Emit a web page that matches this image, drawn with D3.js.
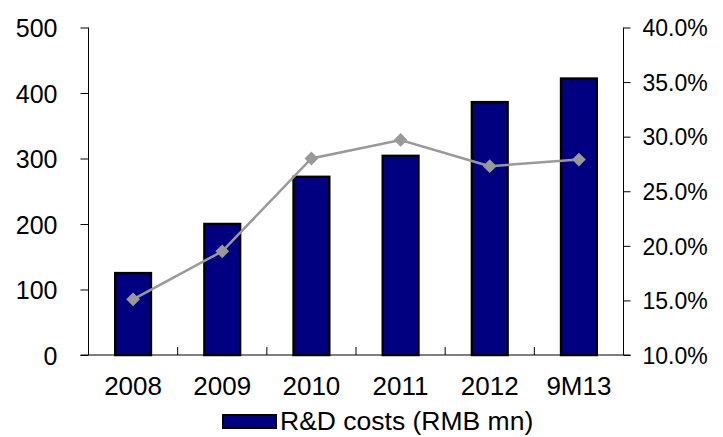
<!DOCTYPE html>
<html>
<head>
<meta charset="utf-8">
<script src="https://cdn.jsdelivr.net/npm/d3@7"></script>
<style>
  body { margin: 0; background: #fff; }
  svg text { font-family: "Liberation Sans", Arial, sans-serif; fill: #000; }
</style>
</head>
<body>
<svg id="chart"></svg>
<script>
const years = ["2008", "2009", "2010", "2011", "2012", "9M13"];
const rdCosts = [125, 200, 272, 304, 386, 422];
const rdRatio = [15.1, 19.5, 28.0, 29.7, 27.3, 27.9];
const leftTicks = [0, 100, 200, 300, 400, 500];
const rightTicks = [10, 15, 20, 25, 30, 35, 40];
const legendLabel = "R&D costs (RMB mn)";

const width = 723, height = 437;
const x0 = 88.5, x1 = 623.5, yTop = 27.5, yBot = 355;

const svg = d3.select("#chart").attr("width", width).attr("height", height);

const x = d3.scaleBand().domain(years).range([x0, x1]).paddingInner(0.6).paddingOuter(0.3);
const yL = d3.scaleLinear().domain([0, 500]).range([yBot, yTop]);
const yR = d3.scaleLinear().domain([10, 40]).range([yBot, yTop]);

// bars
svg.selectAll("rect.bar")
  .data(rdCosts)
  .enter().append("rect")
  .attr("class", "bar")
  .attr("x", (d, i) => x(years[i]))
  .attr("y", d => yL(d))
  .attr("width", x.bandwidth())
  .attr("height", d => yBot - yL(d))
  .attr("fill", "#000080")
  .attr("stroke", "#000")
  .attr("stroke-width", 2.5);

// left axis
const axL = svg.append("g").attr("transform", `translate(${x0},0)`)
  .call(d3.axisLeft(yL).tickValues(leftTicks).tickSize(8).tickPadding(23).tickFormat(d3.format("d")));
axL.select(".domain").attr("d", `M0,${yTop}V${yBot}`);
axL.selectAll("text").style("font-size", "25px").attr("dy", "0.36em");

// right axis
const axR = svg.append("g").attr("transform", `translate(${x1},0)`)
  .call(d3.axisRight(yR).tickValues(rightTicks).tickSize(7).tickPadding(12).tickFormat(d => d.toFixed(1) + "%"));
axR.select(".domain").attr("d", `M0,${yTop}V${yBot}`);
axR.selectAll("text").style("font-size", "23px").attr("dy", "0.36em");

// x baseline and category ticks
svg.append("line").attr("x1", x0 - 8).attr("x2", x1 + 7)
  .attr("y1", yBot).attr("y2", yBot).attr("stroke", "#000");
const step = x.step();
svg.selectAll("line.cat")
  .data(d3.range(1, years.length))
  .enter().append("line")
  .attr("class", "cat")
  .attr("x1", i => x0 + i * step).attr("x2", i => x0 + i * step)
  .attr("y1", yBot).attr("y2", yBot - 8)
  .attr("stroke", "#000");
svg.selectAll("text.cat")
  .data(years)
  .enter().append("text")
  .attr("class", "cat")
  .attr("x", d => x(d) + x.bandwidth() / 2)
  .attr("y", 395)
  .attr("text-anchor", "middle")
  .style("font-size", "26px")
  .text(d => d);

// ratio line
const line = d3.line()
  .x((d, i) => x(years[i]) + x.bandwidth() / 2)
  .y(d => yR(d));
svg.append("path").datum(rdRatio)
  .attr("d", line)
  .attr("fill", "none")
  .attr("stroke", "#999999")
  .attr("stroke-width", 2.5);
svg.selectAll("path.mk")
  .data(rdRatio)
  .enter().append("path")
  .attr("class", "mk")
  .attr("d", d3.symbol().type(d3.symbolSquare).size(95))
  .attr("transform", (d, i) => `translate(${x(years[i]) + x.bandwidth() / 2},${yR(d)}) rotate(45)`)
  .attr("fill", "#999999");

// legend
const lg = svg.append("g").attr("transform", "translate(223,415)");
lg.append("rect").attr("x", 0).attr("y", 0).attr("width", 53).attr("height", 13)
  .attr("fill", "#000080").attr("stroke", "#000").attr("stroke-width", 2);
lg.append("text").attr("x", 57).attr("y", 15).style("font-size", "26.5px").text(legendLabel);
</script>
</body>
</html>
